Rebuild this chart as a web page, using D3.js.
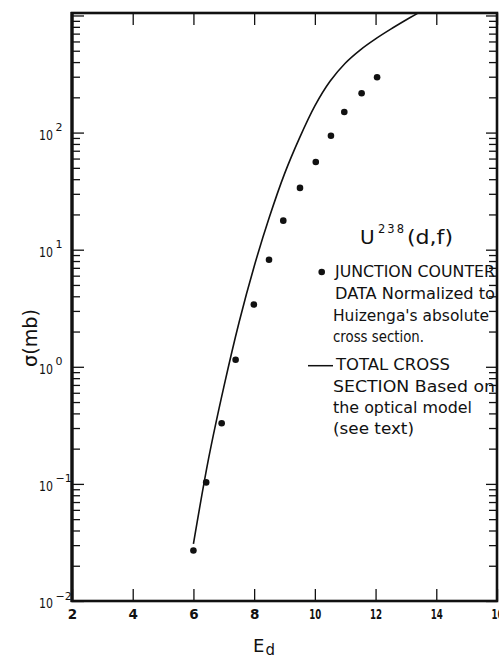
<!DOCTYPE html>
<html>
<head>
<meta charset="utf-8">
<script src="https://cdn.jsdelivr.net/npm/d3@7"></script>
<style>
body { margin: 0; background: #fff; }
text { font-family: "DejaVu Sans", sans-serif; fill: #111; }
</style>
</head>
<body>
<script>
var canvasWidth = 499;
var canvasHeight = 658;

// junction counter points (E_d in MeV, sigma in mb)
var dataE = [6.0, 6.42, 6.93, 7.39, 7.99, 8.49, 8.96, 9.51, 10.03, 10.53, 10.97, 11.54, 12.05];
var dataSigma = [0.027, 0.103, 0.33, 1.15, 3.4, 8.2, 17.7, 33.7, 56, 94, 150, 217, 297];

// optical model total cross section
var curveE = [6.0, 6.5, 7.0, 7.5, 8.0, 8.5, 9.0, 9.5, 10.0, 10.5, 11.0, 11.5, 12.0, 12.5, 13.0, 13.5];
var curveSigma = [0.0307, 0.165, 0.671, 2.38, 7.19, 18.9, 44.4, 90.6, 169, 274, 391, 509, 631, 764, 914, 1086];

var xTicks = [2, 4, 6, 8, 10, 12, 14, 16];
var yExponents = [-2, -1, 0, 1, 2];

var legendLines1 = ["JUNCTION COUNTER", "DATA  Normalized to", "Huizenga's absolute", "cross section."];
var legendLines2 = ["TOTAL CROSS", "SECTION  Based on", "the optical model", "(see text)"];

var plotLeft = 72, plotRight = 497, plotTop = 13, plotBottom = 601;

var x = d3.scaleLinear().domain([2, 16]).range([plotLeft, plotRight]);
var y = d3.scaleLog().domain([0.01, 1050]).range([plotBottom, plotTop]);

var majorY = yExponents.map(e => Math.pow(10, e)).concat([1000]);
var minorY = [];
yExponents.forEach(function(e) {
    for (var k = 2; k <= 9; k++) minorY.push(k * Math.pow(10, e));
});

var canvas = d3.select("body")
                .append("svg")
                .attr("width", canvasWidth)
                .attr("height", canvasHeight);

canvas.append("defs").append("clipPath").attr("id", "plotclip")
        .append("rect")
        .attr("x", plotLeft).attr("y", plotTop)
        .attr("width", plotRight - plotLeft).attr("height", plotBottom - plotTop);

function styleAxis(g) {
    g.select(".domain").remove();
    g.selectAll(".tick line").attr("stroke", "#111").attr("stroke-width", 1.3);
}

// bottom axis, ticks pointing up
var bottomAxis = canvas.append("g")
        .attr("transform", "translate(0," + plotBottom + ")")
        .call(d3.axisBottom(x).tickValues(xTicks).tickSizeInner(-12).tickSizeOuter(0).tickFormat(d3.format("d")))
        .call(styleAxis);
bottomAxis.selectAll(".tick text")
        .attr("y", 18).attr("dy", 0)
        .attr("font-size", "13.5px")
        .attr("font-weight", "bold")
        .attr("font-family", "DejaVu Sans, sans-serif")
        .attr("fill", "#111")
        .each(function(d) {
            if (d >= 10) d3.select(this).attr("textLength", 12).attr("lengthAdjust", "spacingAndGlyphs");
        });

// top axis, ticks pointing down
canvas.append("g")
        .attr("transform", "translate(0," + plotTop + ")")
        .call(d3.axisTop(x).tickValues(xTicks).tickSizeInner(-12).tickSizeOuter(0).tickFormat(""))
        .call(styleAxis);

// left and right log axes, major and minor
canvas.append("g")
        .attr("transform", "translate(" + plotLeft + ",0)")
        .call(d3.axisLeft(y).tickValues(majorY).tickSizeInner(-12).tickSizeOuter(0).tickFormat(""))
        .call(styleAxis);
canvas.append("g")
        .attr("transform", "translate(" + plotLeft + ",0)")
        .call(d3.axisLeft(y).tickValues(minorY).tickSizeInner(-8).tickSizeOuter(0).tickFormat(""))
        .call(styleAxis);
canvas.append("g")
        .attr("transform", "translate(" + plotRight + ",0)")
        .call(d3.axisRight(y).tickValues(majorY).tickSizeInner(-11).tickSizeOuter(0).tickFormat(""))
        .call(styleAxis);
canvas.append("g")
        .attr("transform", "translate(" + plotRight + ",0)")
        .call(d3.axisRight(y).tickValues(minorY).tickSizeInner(-8).tickSizeOuter(0).tickFormat(""))
        .call(styleAxis);

// y tick labels as 10^n
var yLabels = canvas.selectAll(".ylab")
        .data(yExponents)
        .enter()
        .append("g")
        .attr("class", "ylab");
yLabels.append("text")
        .attr("x", 39)
        .attr("y", e => y(Math.pow(10, e)) + 7)
        .attr("font-size", "14px")
        .attr("textLength", 14)
        .attr("lengthAdjust", "spacingAndGlyphs")
        .text("10");
yLabels.append("text")
        .attr("x", 55.5)
        .attr("y", e => y(Math.pow(10, e)) - 1.5)
        .attr("font-size", "11px")
        .text(e => e < 0 ? "\u2212" + (-e) : e);

// frame
canvas.append("rect")
        .attr("x", plotLeft).attr("y", plotTop)
        .attr("width", plotRight - plotLeft).attr("height", plotBottom - plotTop)
        .attr("fill", "none")
        .attr("stroke", "#111")
        .attr("stroke-width", 2.6);
canvas.append("line")
        .attr("x1", plotLeft).attr("x2", plotLeft)
        .attr("y1", plotTop - 1).attr("y2", plotBottom + 1)
        .attr("stroke", "#111").attr("stroke-width", 3.2);

// curve
var line = d3.line()
        .x(i => x(curveE[i]))
        .y(i => y(curveSigma[i]))
        .curve(d3.curveCatmullRom);
canvas.append("path")
        .attr("clip-path", "url(#plotclip)")
        .attr("d", line(d3.range(curveE.length)))
        .attr("fill", "none")
        .attr("stroke", "#111")
        .attr("stroke-width", 1.6);

// data points
canvas.selectAll("circle.pt")
        .data(d3.range(dataE.length))
        .enter()
        .append("circle")
        .attr("class", "pt")
        .attr("cx", i => x(dataE[i]))
        .attr("cy", i => y(dataSigma[i]))
        .attr("r", 3.3)
        .attr("fill", "#111");

// legend
canvas.append("text").attr("x", 360).attr("y", 244).attr("font-size", "20px").text("U");
canvas.append("text").attr("x", 378).attr("y", 233).attr("font-size", "11.5px")
        .attr("textLength", 26).attr("lengthAdjust", "spacing").text("238");
canvas.append("text").attr("x", 407).attr("y", 244).attr("font-size", "20px")
        .attr("textLength", 46).attr("lengthAdjust", "spacingAndGlyphs").text("(d,f)");

var legendLen1 = [160, 160, 156, 91];
var legendX1 = [335, 335, 333, 333];
var legendY1 = [277, 299, 320.5, 342];
canvas.append("circle").attr("cx", 321.7).attr("cy", 272).attr("r", 3.3).attr("fill", "#111");
canvas.selectAll(".leg1")
        .data(legendLines1)
        .enter()
        .append("text")
        .attr("class", "leg1")
        .attr("x", (d, i) => legendX1[i])
        .attr("y", (d, i) => legendY1[i])
        .attr("font-size", "15.5px")
        .attr("textLength", (d, i) => legendLen1[i])
        .attr("lengthAdjust", "spacingAndGlyphs")
        .text(d => d);

var legendLen2 = [114, 162, 139, 81];
var legendX2 = [336, 333, 333, 333];
var legendY2 = [370, 391.7, 413, 433.5];
canvas.append("line").attr("x1", 308).attr("x2", 333).attr("y1", 365.7).attr("y2", 365.7)
        .attr("stroke", "#111").attr("stroke-width", 1.5);
canvas.selectAll(".leg2")
        .data(legendLines2)
        .enter()
        .append("text")
        .attr("class", "leg2")
        .attr("x", (d, i) => legendX2[i])
        .attr("y", (d, i) => legendY2[i])
        .attr("font-size", "15.5px")
        .attr("textLength", (d, i) => legendLen2[i])
        .attr("lengthAdjust", "spacingAndGlyphs")
        .text(d => d);

// axis titles
canvas.append("text")
        .attr("transform", "translate(37,338) rotate(-90)")
        .attr("text-anchor", "middle")
        .attr("font-size", "20px")
        .attr("textLength", 58)
        .attr("lengthAdjust", "spacingAndGlyphs")
        .text("\u03c3(mb)");
canvas.append("text").attr("x", 253).attr("y", 652).attr("font-size", "18px").text("E");
canvas.append("text").attr("x", 265.5).attr("y", 655).attr("font-size", "15px").text("d");
</script>
</body>
</html>
